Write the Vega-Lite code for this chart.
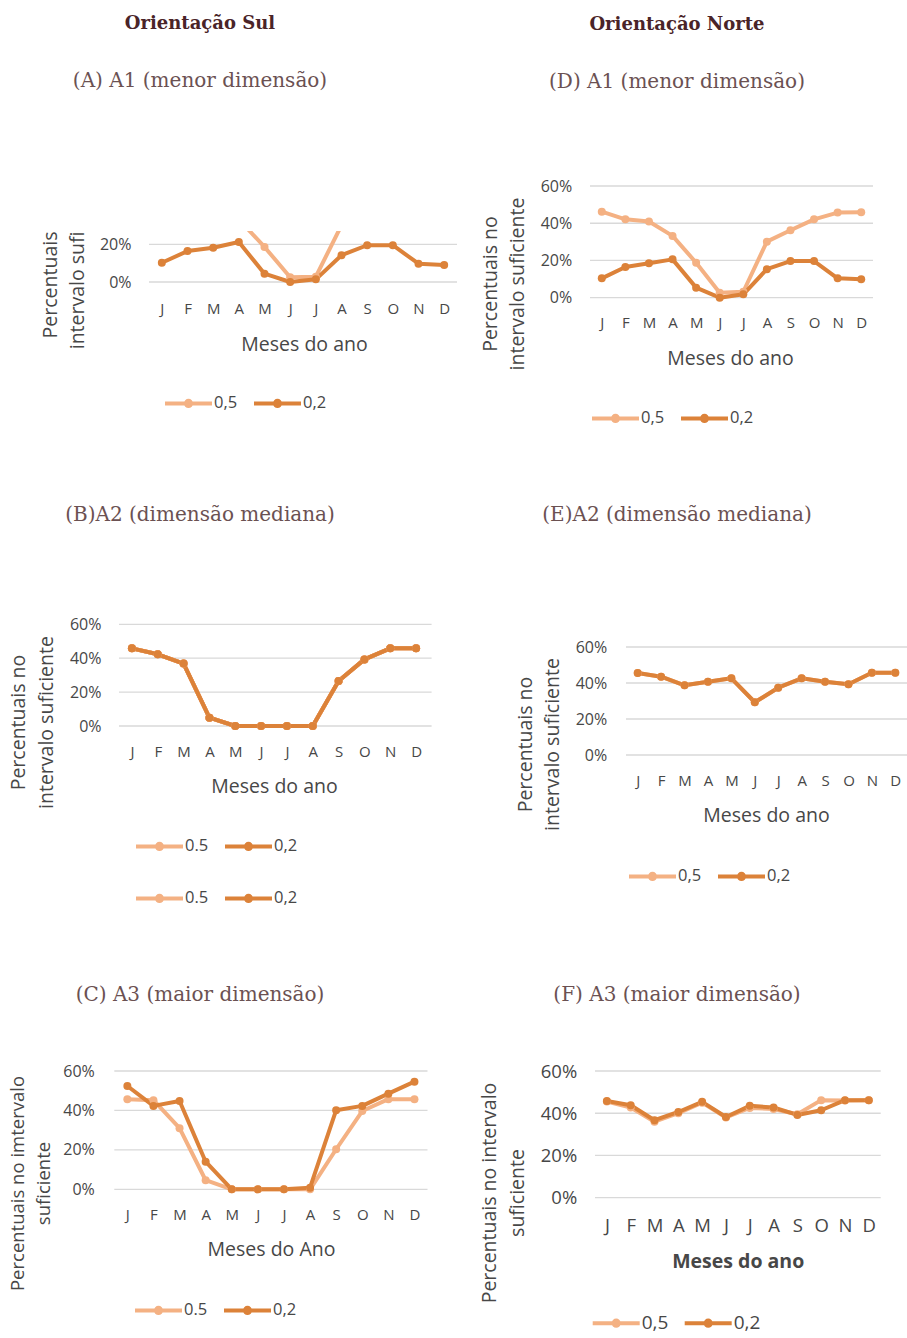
{
  "$schema": "https://vega.github.io/schema/vega-lite/v6.json",
  "padding": {"left": 0, "top": 15, "right": 0, "bottom": 0},
  "background": "white",
  "columns": 2,
  "spacing": 0,
  "bounds": "flush",
  "resolve": {"scale": {"color": "independent"}, "legend": {"color": "independent"}},
  "config": {
    "view": {"stroke": null},
    "font": "Open Sans",
    "axis": {
      "grid": false, "domain": false, "ticks": false,
      "labelFont": "Open Sans", "titleFont": "Open Sans",
      "labelColor": "#474747", "titleColor": "#474747",
      "labelFontSize": 16, "titleFontSize": 19.5, "titleFontWeight": "normal"
    },
    "axisX": {"labelFontSize": 15},
    "legend": {
      "labelFont": "Open Sans", "labelFontSize": 16.5, "labelColor": "#474747",
      "symbolType": "M-1,0L1,0M-0.11,0A0.11,0.11,0,1,0,0.11,0A0.11,0.11,0,1,0,-0.11,0Z",
      "symbolSize": 2209, "symbolStrokeWidth": 4, "symbolOpacity": 1,
      "labelOffset": 0, "columnPadding": 8, "padding": 0
    },
    "title": {
      "font": "DejaVu Serif", "fontSize": 20, "fontWeight": "normal",
      "color": "#6b5152", "anchor": "middle", "frame": "group",
      "subtitleFont": "DejaVu Serif", "subtitleFontSize": 20, "subtitleColor": "#6b5152"
    }
  },
  "datasets": {
    "grade": [{"v": 0}, {"v": 0.2}, {"v": 0.4}, {"v": 0.6}],
    "sul_A1": [
      {"mes": 1, "serie": "0,5", "valor": 0.462}, {"mes": 2, "serie": "0,5", "valor": 0.421},
      {"mes": 3, "serie": "0,5", "valor": 0.409}, {"mes": 4, "serie": "0,5", "valor": 0.332},
      {"mes": 5, "serie": "0,5", "valor": 0.186}, {"mes": 6, "serie": "0,5", "valor": 0.025},
      {"mes": 7, "serie": "0,5", "valor": 0.028}, {"mes": 8, "serie": "0,5", "valor": 0.301},
      {"mes": 9, "serie": "0,5", "valor": 0.362}, {"mes": 10, "serie": "0,5", "valor": 0.421},
      {"mes": 11, "serie": "0,5", "valor": 0.457}, {"mes": 12, "serie": "0,5", "valor": 0.459},
      {"mes": 1, "serie": "0,2", "valor": 0.102}, {"mes": 2, "serie": "0,2", "valor": 0.164},
      {"mes": 3, "serie": "0,2", "valor": 0.182}, {"mes": 4, "serie": "0,2", "valor": 0.212},
      {"mes": 5, "serie": "0,2", "valor": 0.044}, {"mes": 6, "serie": "0,2", "valor": 0.0},
      {"mes": 7, "serie": "0,2", "valor": 0.014}, {"mes": 8, "serie": "0,2", "valor": 0.142},
      {"mes": 9, "serie": "0,2", "valor": 0.195}, {"mes": 10, "serie": "0,2", "valor": 0.195},
      {"mes": 11, "serie": "0,2", "valor": 0.097}, {"mes": 12, "serie": "0,2", "valor": 0.09}
    ],
    "sul_A2": [
      {"mes": 1, "serie": "0.5", "valor": 0.458}, {"mes": 2, "serie": "0.5", "valor": 0.423},
      {"mes": 3, "serie": "0.5", "valor": 0.368}, {"mes": 4, "serie": "0.5", "valor": 0.049},
      {"mes": 5, "serie": "0.5", "valor": 0.0}, {"mes": 6, "serie": "0.5", "valor": 0.0},
      {"mes": 7, "serie": "0.5", "valor": 0.0}, {"mes": 8, "serie": "0.5", "valor": 0.0},
      {"mes": 9, "serie": "0.5", "valor": 0.265}, {"mes": 10, "serie": "0.5", "valor": 0.393},
      {"mes": 11, "serie": "0.5", "valor": 0.458}, {"mes": 12, "serie": "0.5", "valor": 0.458},
      {"mes": 1, "serie": "0,2", "valor": 0.458}, {"mes": 2, "serie": "0,2", "valor": 0.423},
      {"mes": 3, "serie": "0,2", "valor": 0.368}, {"mes": 4, "serie": "0,2", "valor": 0.049},
      {"mes": 5, "serie": "0,2", "valor": 0.0}, {"mes": 6, "serie": "0,2", "valor": 0.0},
      {"mes": 7, "serie": "0,2", "valor": 0.0}, {"mes": 8, "serie": "0,2", "valor": 0.0},
      {"mes": 9, "serie": "0,2", "valor": 0.265}, {"mes": 10, "serie": "0,2", "valor": 0.393},
      {"mes": 11, "serie": "0,2", "valor": 0.458}, {"mes": 12, "serie": "0,2", "valor": 0.458}
    ],
    "sul_A3": [
      {"mes": 1, "serie": "0.5", "valor": 0.457}, {"mes": 2, "serie": "0.5", "valor": 0.452},
      {"mes": 3, "serie": "0.5", "valor": 0.31}, {"mes": 4, "serie": "0.5", "valor": 0.046},
      {"mes": 5, "serie": "0.5", "valor": 0.0}, {"mes": 6, "serie": "0.5", "valor": 0.0},
      {"mes": 7, "serie": "0.5", "valor": 0.0}, {"mes": 8, "serie": "0.5", "valor": 0.0},
      {"mes": 9, "serie": "0.5", "valor": 0.203}, {"mes": 10, "serie": "0.5", "valor": 0.397},
      {"mes": 11, "serie": "0.5", "valor": 0.457}, {"mes": 12, "serie": "0.5", "valor": 0.457},
      {"mes": 1, "serie": "0,2", "valor": 0.524}, {"mes": 2, "serie": "0,2", "valor": 0.423},
      {"mes": 3, "serie": "0,2", "valor": 0.448}, {"mes": 4, "serie": "0,2", "valor": 0.14},
      {"mes": 5, "serie": "0,2", "valor": 0.0}, {"mes": 6, "serie": "0,2", "valor": 0.0},
      {"mes": 7, "serie": "0,2", "valor": 0.0}, {"mes": 8, "serie": "0,2", "valor": 0.008},
      {"mes": 9, "serie": "0,2", "valor": 0.401}, {"mes": 10, "serie": "0,2", "valor": 0.423},
      {"mes": 11, "serie": "0,2", "valor": 0.485}, {"mes": 12, "serie": "0,2", "valor": 0.546}
    ],
    "norte_A1": [
      {"mes": 1, "serie": "0,5", "valor": 0.462}, {"mes": 2, "serie": "0,5", "valor": 0.421},
      {"mes": 3, "serie": "0,5", "valor": 0.409}, {"mes": 4, "serie": "0,5", "valor": 0.332},
      {"mes": 5, "serie": "0,5", "valor": 0.188}, {"mes": 6, "serie": "0,5", "valor": 0.027},
      {"mes": 7, "serie": "0,5", "valor": 0.032}, {"mes": 8, "serie": "0,5", "valor": 0.301},
      {"mes": 9, "serie": "0,5", "valor": 0.362}, {"mes": 10, "serie": "0,5", "valor": 0.421},
      {"mes": 11, "serie": "0,5", "valor": 0.457}, {"mes": 12, "serie": "0,5", "valor": 0.459},
      {"mes": 1, "serie": "0,2", "valor": 0.104}, {"mes": 2, "serie": "0,2", "valor": 0.165},
      {"mes": 3, "serie": "0,2", "valor": 0.185}, {"mes": 4, "serie": "0,2", "valor": 0.206},
      {"mes": 5, "serie": "0,2", "valor": 0.054}, {"mes": 6, "serie": "0,2", "valor": 0.0},
      {"mes": 7, "serie": "0,2", "valor": 0.018}, {"mes": 8, "serie": "0,2", "valor": 0.153},
      {"mes": 9, "serie": "0,2", "valor": 0.197}, {"mes": 10, "serie": "0,2", "valor": 0.197},
      {"mes": 11, "serie": "0,2", "valor": 0.104}, {"mes": 12, "serie": "0,2", "valor": 0.099}
    ],
    "norte_A2": [
      {"mes": 1, "serie": "0,5", "valor": 0.456}, {"mes": 2, "serie": "0,5", "valor": 0.435},
      {"mes": 3, "serie": "0,5", "valor": 0.387}, {"mes": 4, "serie": "0,5", "valor": 0.407},
      {"mes": 5, "serie": "0,5", "valor": 0.426}, {"mes": 6, "serie": "0,5", "valor": 0.293},
      {"mes": 7, "serie": "0,5", "valor": 0.374}, {"mes": 8, "serie": "0,5", "valor": 0.426},
      {"mes": 9, "serie": "0,5", "valor": 0.407}, {"mes": 10, "serie": "0,5", "valor": 0.393},
      {"mes": 11, "serie": "0,5", "valor": 0.457}, {"mes": 12, "serie": "0,5", "valor": 0.457},
      {"mes": 1, "serie": "0,2", "valor": 0.456}, {"mes": 2, "serie": "0,2", "valor": 0.435},
      {"mes": 3, "serie": "0,2", "valor": 0.387}, {"mes": 4, "serie": "0,2", "valor": 0.407},
      {"mes": 5, "serie": "0,2", "valor": 0.426}, {"mes": 6, "serie": "0,2", "valor": 0.293},
      {"mes": 7, "serie": "0,2", "valor": 0.374}, {"mes": 8, "serie": "0,2", "valor": 0.426},
      {"mes": 9, "serie": "0,2", "valor": 0.407}, {"mes": 10, "serie": "0,2", "valor": 0.393},
      {"mes": 11, "serie": "0,2", "valor": 0.457}, {"mes": 12, "serie": "0,2", "valor": 0.457}
    ],
    "norte_A3": [
      {"mes": 1, "serie": "0,5", "valor": 0.455}, {"mes": 2, "serie": "0,5", "valor": 0.427},
      {"mes": 3, "serie": "0,5", "valor": 0.36}, {"mes": 4, "serie": "0,5", "valor": 0.4},
      {"mes": 5, "serie": "0,5", "valor": 0.45}, {"mes": 6, "serie": "0,5", "valor": 0.38},
      {"mes": 7, "serie": "0,5", "valor": 0.425}, {"mes": 8, "serie": "0,5", "valor": 0.42},
      {"mes": 9, "serie": "0,5", "valor": 0.395}, {"mes": 10, "serie": "0,5", "valor": 0.462},
      {"mes": 11, "serie": "0,5", "valor": 0.46}, {"mes": 12, "serie": "0,5", "valor": 0.462},
      {"mes": 1, "serie": "0,2", "valor": 0.458}, {"mes": 2, "serie": "0,2", "valor": 0.438},
      {"mes": 3, "serie": "0,2", "valor": 0.367}, {"mes": 4, "serie": "0,2", "valor": 0.406},
      {"mes": 5, "serie": "0,2", "valor": 0.454}, {"mes": 6, "serie": "0,2", "valor": 0.382},
      {"mes": 7, "serie": "0,2", "valor": 0.435}, {"mes": 8, "serie": "0,2", "valor": 0.427},
      {"mes": 9, "serie": "0,2", "valor": 0.392}, {"mes": 10, "serie": "0,2", "valor": 0.414},
      {"mes": 11, "serie": "0,2", "valor": 0.462}, {"mes": 12, "serie": "0,2", "valor": 0.462}
    ]
  },
  "concat": [
    {
      "width": 453, "height": 310,
      "title": {"text": "Orientação Sul", "fontWeight": "bold", "fontSize": 18, "color": "#4a2428", "subtitle": "(A) A1 (menor dimensão)", "subtitlePadding": 38, "offset": 140, "dx": -26.5},
      "layer": [
        {
          "data": {"name": "grade"},
          "transform": [{"filter": "datum.v <= 0.2"}],
          "mark": {"type": "rule", "color": "#d9d9d9", "strokeWidth": 1.3},
          "encoding": {
            "x": {"datum": 0.5, "type": "quantitative", "scale": {"domain": [0.5, 12.5], "range": [149, 457], "nice": false, "zero": false}},
            "x2": {"datum": 12.5},
            "y": {"field": "v", "type": "quantitative", "scale": {"domain": [0, 0.6], "range": [51, -62.1], "nice": false}}
          }
        },
        {
          "data": {"name": "sul_A1"},
          "encoding": {
            "x": {"field": "mes", "type": "quantitative",
              "scale": {"domain": [0.5, 12.5], "range": [149, 457], "nice": false, "zero": false},
              "axis": {"values": [1,2,3,4,5,6,7,8,9,10,11,12], "labelExpr": "substring('JFMAMJJASOND', datum.value - 1, datum.value)", "offset": -259, "labelPadding": 19, "title": "Meses do ano", "titleX": 304, "titleY": 62, "titleBaseline": "middle"}},
            "y": {"field": "valor", "type": "quantitative",
              "scale": {"domain": [0, 0.6], "range": [51, -62.1], "nice": false},
              "axis": {"values": [0, 0.2], "format": ".0%", "offset": -131, "labelPadding": 0, "title": ["Percentuais", "intervalo sufi"], "titleAngle": 270, "titleAlign": "right", "titleBaseline": "middle", "titleX": -81, "titleY": 0, "titleLineHeight": 27}},
            "color": {"field": "serie", "type": "nominal",
              "scale": {"domain": ["0,5", "0,2"], "range": ["#F4B183", "#DC8239"]},
              "legend": {"title": null, "orient": "none", "direction": "horizontal", "legendX": 163, "legendY": 146.5}}
          },
          "layer": [
            {"mark": {"type": "line", "strokeWidth": 4, "strokeJoin": "round", "strokeCap": "round", "clip": true}},
            {"mark": {"type": "point", "filled": true, "size": 64, "opacity": 1, "clip": true}}
          ]
        }
      ]
    },
    {
      "width": 454, "height": 310,
      "title": {"text": "Orientação Norte", "fontWeight": "bold", "fontSize": 18, "color": "#4a2428", "subtitle": "(D) A1 (menor dimensão)", "subtitlePadding": 38, "offset": 86, "dx": -3},
      "layer": [
        {
          "data": {"name": "grade"},
          "mark": {"type": "rule", "color": "#d9d9d9", "strokeWidth": 1.3},
          "encoding": {
            "x": {"datum": 0.5, "type": "quantitative", "scale": {"domain": [0.5, 12.5], "range": [137, 420], "nice": false, "zero": false}},
            "x2": {"datum": 12.5},
            "y": {"field": "v", "type": "quantitative", "scale": {"domain": [0, 0.6], "range": [66.7, -45], "nice": false}}
          }
        },
        {
          "data": {"name": "norte_A1"},
          "encoding": {
            "x": {"field": "mes", "type": "quantitative",
              "scale": {"domain": [0.5, 12.5], "range": [137, 420], "nice": false, "zero": false},
              "axis": {"values": [1,2,3,4,5,6,7,8,9,10,11,12], "labelExpr": "substring('JFMAMJJASOND', datum.value - 1, datum.value)", "offset": -243.3, "labelPadding": 18, "title": "Meses do ano", "titleX": 277, "titleY": 60.3, "titleBaseline": "middle"}},
            "y": {"field": "valor", "type": "quantitative",
              "scale": {"domain": [0, 0.6], "range": [66.7, -45], "nice": false},
              "axis": {"values": [0, 0.2, 0.4, 0.6], "format": ".0%", "offset": -118.7, "labelPadding": 0, "title": ["Percentuais no", "intervalo suficiente"], "titleAngle": 270, "titleAlign": "center", "titleBaseline": "middle", "titleX": -81.7, "titleY": 52.5, "titleLineHeight": 27}},
            "color": {"field": "serie", "type": "nominal",
              "scale": {"domain": ["0,5", "0,2"], "range": ["#F4B183", "#DC8239"]},
              "legend": {"title": null, "orient": "none", "direction": "horizontal", "legendX": 137, "legendY": 161.5}}
          },
          "layer": [
            {"mark": {"type": "line", "strokeWidth": 4, "strokeJoin": "round", "strokeCap": "round"}},
            {"mark": {"type": "point", "filled": true, "size": 64, "opacity": 1}}
          ]
        }
      ]
    },
    {
      "width": 453, "height": 480,
      "title": {"text": "(B)A2 (dimensão mediana)", "offset": 16, "dx": -26.5},
      "layer": [
        {
          "data": {"name": "grade"},
          "mark": {"type": "rule", "color": "#d9d9d9", "strokeWidth": 1.3},
          "encoding": {
            "x": {"datum": 0.5, "type": "quantitative", "scale": {"domain": [0.5, 12.5], "range": [119, 429], "nice": false, "zero": false}},
            "x2": {"datum": 12.6},
            "y": {"field": "v", "type": "quantitative", "scale": {"domain": [0, 0.6], "range": [185, 83.3], "nice": false}}
          }
        },
        {
          "data": {"name": "sul_A2"},
          "encoding": {
            "x": {"field": "mes", "type": "quantitative",
              "scale": {"domain": [0.5, 12.5], "range": [119, 429], "nice": false, "zero": false},
              "axis": {"values": [1,2,3,4,5,6,7,8,9,10,11,12], "labelExpr": "substring('JFMAMJJASOND', datum.value - 1, datum.value)", "offset": -295, "labelPadding": 18, "title": "Meses do ano", "titleX": 274, "titleY": 60, "titleBaseline": "middle"}},
            "y": {"field": "valor", "type": "quantitative",
              "scale": {"domain": [0, 0.6], "range": [185, 83.3], "nice": false},
              "axis": {"values": [0, 0.2, 0.4, 0.6], "format": ".0%", "offset": -101, "labelPadding": 0, "title": ["Percentuais no", "intervalo suficiente"], "titleAngle": 270, "titleAlign": "center", "titleBaseline": "middle", "titleX": -83, "titleY": 181, "titleLineHeight": 28}},
            "color": {"field": "serie", "type": "nominal",
              "scale": {"domain": ["0.5", "0,2"], "range": ["#F4B183", "#DC8239"]},
              "legend": {"title": null, "orient": "none", "direction": "horizontal", "legendX": 134, "legendY": 279.5}}
          },
          "layer": [
            {"mark": {"type": "line", "strokeWidth": 4, "strokeJoin": "round", "strokeCap": "round"}},
            {"mark": {"type": "point", "filled": true, "size": 64, "opacity": 1}}
          ]
        },
        {
          "data": {"name": "sul_A2"},
          "encoding": {
            "x": {"field": "mes", "type": "quantitative"},
            "y": {"field": "valor", "type": "quantitative"},
            "color": {"field": "serie", "type": "nominal",
              "sort": "descending",
              "scale": {"range": ["#F4B183", "#DC8239"]},
              "legend": {"title": null, "orient": "none", "direction": "horizontal", "legendX": 134, "legendY": 331.5}}
          },
          "layer": [
            {"mark": {"type": "line", "strokeWidth": 4, "strokeJoin": "round", "strokeCap": "round"}},
            {"mark": {"type": "point", "filled": true, "size": 64, "opacity": 1}}
          ]
        }
      ],
      "resolve": {"scale": {"color": "independent"}, "legend": {"color": "independent"}}
    },
    {
      "width": 454, "height": 480,
      "title": {"text": "(E)A2 (dimensão mediana)", "offset": 16, "dx": -3},
      "layer": [
        {
          "data": {"name": "grade"},
          "mark": {"type": "rule", "color": "#d9d9d9", "strokeWidth": 1.3},
          "encoding": {
            "x": {"datum": 0.5, "type": "quantitative", "scale": {"domain": [0.5, 12.5], "range": [173, 454], "nice": false, "zero": false}},
            "x2": {"datum": 12.5},
            "y": {"field": "v", "type": "quantitative", "scale": {"domain": [0, 0.6], "range": [214, 106], "nice": false}}
          }
        },
        {
          "data": {"name": "norte_A2"},
          "encoding": {
            "x": {"field": "mes", "type": "quantitative",
              "scale": {"domain": [0.5, 12.5], "range": [173, 454], "nice": false, "zero": false},
              "axis": {"values": [1,2,3,4,5,6,7,8,9,10,11,12], "labelExpr": "substring('JFMAMJJASOND', datum.value - 1, datum.value)", "offset": -266, "labelPadding": 18, "title": "Meses do ano", "titleX": 313, "titleY": 60, "titleBaseline": "middle"}},
            "y": {"field": "valor", "type": "quantitative",
              "scale": {"domain": [0, 0.6], "range": [214, 106], "nice": false},
              "axis": {"values": [0, 0.2, 0.4, 0.6], "format": ".0%", "offset": -153.7, "labelPadding": 0, "title": ["Percentuais no", "intervalo suficiente"], "titleAngle": 270, "titleAlign": "center", "titleBaseline": "middle", "titleX": -81.7, "titleY": 203, "titleLineHeight": 27}},
            "color": {"field": "serie", "type": "nominal",
              "scale": {"domain": ["0,5", "0,2"], "range": ["#F4B183", "#DC8239"]},
              "legend": {"title": null, "orient": "none", "direction": "horizontal", "legendX": 174, "legendY": 309.5}}
          },
          "layer": [
            {"mark": {"type": "line", "strokeWidth": 4, "strokeJoin": "round", "strokeCap": "round"}},
            {"mark": {"type": "point", "filled": true, "size": 64, "opacity": 1}}
          ]
        }
      ]
    },
    {
      "width": 453, "height": 318,
      "title": {"text": "(C) A3 (maior dimensão)", "offset": 16, "dx": -26.5},
      "layer": [
        {
          "data": {"name": "grade"},
          "mark": {"type": "rule", "color": "#d9d9d9", "strokeWidth": 1.3},
          "encoding": {
            "x": {"datum": 0.5, "type": "quantitative", "scale": {"domain": [0.5, 12.5], "range": [114.3, 427.5], "nice": false, "zero": false}},
            "x2": {"datum": 12.5},
            "y": {"field": "v", "type": "quantitative", "scale": {"domain": [0, 0.6], "range": [168.3, 50], "nice": false}}
          }
        },
        {
          "data": {"name": "sul_A3"},
          "encoding": {
            "x": {"field": "mes", "type": "quantitative",
              "scale": {"domain": [0.5, 12.5], "range": [114.3, 427.5], "nice": false, "zero": false},
              "axis": {"values": [1,2,3,4,5,6,7,8,9,10,11,12], "labelExpr": "substring('JFMAMJJASOND', datum.value - 1, datum.value)", "offset": -149.7, "labelPadding": 18, "title": "Meses do Ano", "titleX": 271, "titleY": 59.7, "titleBaseline": "middle"}},
            "y": {"field": "valor", "type": "quantitative",
              "scale": {"domain": [0, 0.6], "range": [168.3, 50], "nice": false},
              "axis": {"values": [0, 0.2, 0.4, 0.6], "format": ".0%", "offset": -94.3, "labelPadding": 0, "title": ["Percentuais no imtervalo", "suficiente"], "titleAngle": 270, "titleAlign": "center", "titleBaseline": "middle", "titleX": -77.3, "titleY": 162, "titleLineHeight": 26, "titleFontSize": 18.5}},
            "color": {"field": "serie", "type": "nominal",
              "scale": {"domain": ["0.5", "0,2"], "range": ["#F4B183", "#DC8239"]},
              "legend": {"title": null, "orient": "none", "direction": "horizontal", "legendX": 133, "legendY": 263.5}}
          },
          "layer": [
            {"mark": {"type": "line", "strokeWidth": 4, "strokeJoin": "round", "strokeCap": "round"}},
            {"mark": {"type": "point", "filled": true, "size": 64, "opacity": 1}}
          ]
        }
      ]
    },
    {
      "width": 454, "height": 318,
      "title": {"text": "(F) A3 (maior dimensão)", "offset": 16, "dx": -3},
      "layer": [
        {
          "data": {"name": "grade"},
          "mark": {"type": "rule", "color": "#d9d9d9", "strokeWidth": 1.3},
          "encoding": {
            "x": {"datum": 0.5, "type": "quantitative", "scale": {"domain": [0.5, 12.5], "range": [142, 427.7], "nice": false, "zero": false}},
            "x2": {"datum": 12.5},
            "y": {"field": "v", "type": "quantitative", "scale": {"domain": [0, 0.6], "range": [176.7, 50], "nice": false}}
          }
        },
        {
          "data": {"name": "norte_A3"},
          "encoding": {
            "x": {"field": "mes", "type": "quantitative",
              "scale": {"domain": [0.5, 12.5], "range": [142, 427.7], "nice": false, "zero": false},
              "axis": {"values": [1,2,3,4,5,6,7,8,9,10,11,12], "labelExpr": "substring('JFMAMJJASOND', datum.value - 1, datum.value)", "offset": -141.3, "labelPadding": 19, "labelFontSize": 18.5, "title": "Meses do ano", "titleFontWeight": "bold", "titleX": 284.7, "titleY": 64, "titleBaseline": "middle"}},
            "y": {"field": "valor", "type": "quantitative",
              "scale": {"domain": [0, 0.6], "range": [176.7, 50], "nice": false},
              "axis": {"values": [0, 0.2, 0.4, 0.6], "format": ".0%", "offset": -123.7, "labelPadding": 0, "labelFontSize": 18.5, "title": ["Percentuais no intervalo", "suficiente"], "titleAngle": 270, "titleAlign": "center", "titleBaseline": "middle", "titleX": -87.7, "titleY": 171.5, "titleLineHeight": 28}},
            "color": {"field": "serie", "type": "nominal",
              "scale": {"domain": ["0,5", "0,2"], "range": ["#F4B183", "#DC8239"]},
              "legend": {"title": null, "orient": "none", "direction": "horizontal", "legendX": 137.7, "legendY": 276.2, "labelFontSize": 19}}
          },
          "layer": [
            {"mark": {"type": "line", "strokeWidth": 4, "strokeJoin": "round", "strokeCap": "round"}},
            {"mark": {"type": "point", "filled": true, "size": 64, "opacity": 1}}
          ]
        }
      ]
    }
  ]
}
